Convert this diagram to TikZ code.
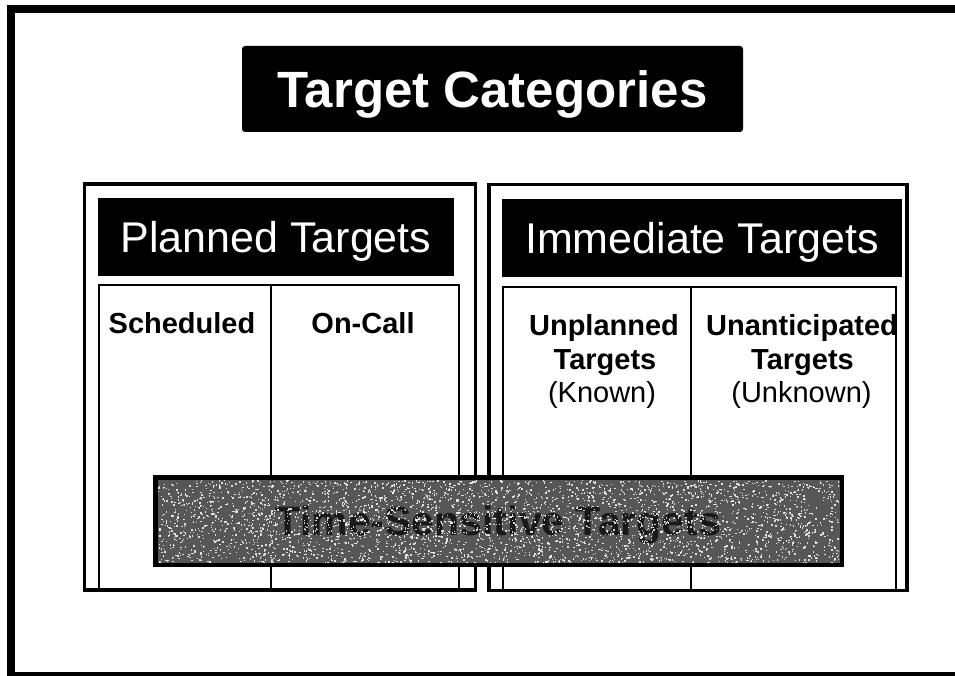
\documentclass[tikz,border=0pt]{standalone}
\usepackage{fontspec}
\setmainfont{Liberation Sans}
\begin{document}
\begin{tikzpicture}[x=1pt,y=-1pt,
  titlebox/.style={fill=black,text=white,rounded corners=3pt,inner sep=0pt,
    font=\fontsize{51}{61}\selectfont\bfseries,text height=36.5pt,text depth=0pt},
  bigbox/.style={draw=black,line width=3.5pt,inner sep=0pt},
  headbox/.style={fill=black,text=white,inner sep=0pt,
    font=\fontsize{43}{51}\selectfont,text height=30.8pt,text depth=0pt},
  cellbox/.style={draw=black,line width=1.3pt,inner sep=0pt},
  boldlabel/.style={font=\fontsize{29}{35}\selectfont\bfseries,inner sep=0pt,anchor=base},
  plainlabel/.style={font=\fontsize{29}{35}\selectfont,inner sep=0pt,anchor=base},
  tstbox/.style={draw=black,line width=3pt,fill=black!66,inner sep=0pt},
  tsttext/.style={font=\fontsize{41}{49}\selectfont\bfseries,text=black!90,inner sep=0pt,
    text height=29.3pt,text depth=0pt}
]
\useasboundingbox (0,0) rectangle (955,676);
\fill[white] (0,0) rectangle (955,676);
% outer frame
\draw[line width=8pt] (11,9) rectangle (990,676);
% title
\node[titlebox,minimum width=501pt,minimum height=86pt] (title) at (492.5,89) {Target Categories};
% big boxes
\node[bigbox,minimum width=391pt,minimum height=406pt] (planned) at (280,387) {};
\node[bigbox,minimum width=418pt,minimum height=406pt] (immediate) at (698,387.5) {};
% headers
\node[headbox,minimum width=356pt,minimum height=78pt] (phead) at (276,237) {Planned Targets};
\node[headbox,minimum width=400pt,minimum height=78pt] (ihead) at (702,238) {Immediate Targets};
% cells
\node[cellbox,minimum width=172pt,minimum height=305pt] (sched) at (185,437.5) {};
\node[cellbox,minimum width=188pt,minimum height=305pt] (oncall) at (365,437.5) {};
\node[cellbox,minimum width=188pt,minimum height=304pt] (unpl) at (597,439) {};
\node[cellbox,minimum width=205pt,minimum height=304pt] (unant) at (793.5,439) {};
% cell labels
\node[boldlabel] (schedt) at (182,333) {Scheduled};
\node[boldlabel] (oncallt) at (363,333) {On-Call};
\node[boldlabel] (unplA) at (604,335) {Unplanned};
\node[boldlabel] (unplB) at (605,369) {Targets};
\node[plainlabel] (unplC) at (602,402) {(Known)};
\node[boldlabel] (unantA) at (802,335) {Unanticipated};
\node[boldlabel] (unantB) at (802.5,369) {Targets};
\node[plainlabel] (unantC) at (801.5,402) {(Unknown)};
% time-sensitive bar
\node[tstbox,minimum width=685pt,minimum height=86pt] (tst) at (498.5,521) {};
\node[tsttext] (tstt) at (tst.center) {Time-Sensitive Targets};
\begin{scope}
  \clip (158,480) rectangle (839,562);
  \pgfmathsetseed{7}
  \foreach \i in {1,...,3600}{
    \pgfmathsetmacro\rx{158+rnd*681}
    \pgfmathsetmacro\ry{480+rnd*82}
    \fill[white,opacity=0.8] (\rx,\ry) rectangle ++(1.4,1.4);
  }
\end{scope}
\draw[line width=3pt] (tst.north west) rectangle (tst.south east);
\end{tikzpicture}
\end{document}
